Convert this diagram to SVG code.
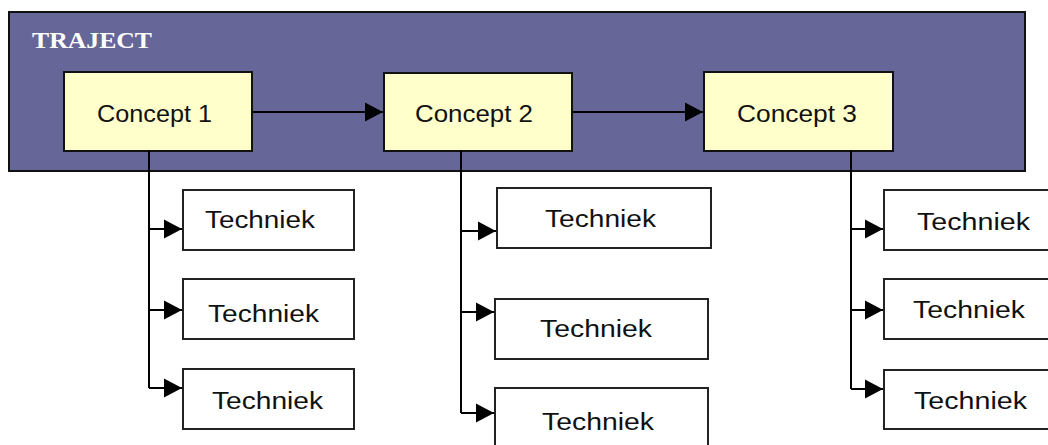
<svg xmlns="http://www.w3.org/2000/svg" width="1048" height="445" viewBox="0 0 1048 445">
<style>
.bg{fill:#666699;stroke:#111;stroke-width:2}
.concept{fill:#ffffcc;stroke:#111;stroke-width:2}
.tech{fill:#ffffff;stroke:#222;stroke-width:2}
.lbl{font-family:"Liberation Sans",Arial,sans-serif;font-size:23px;fill:#111}
.title{font-family:"Liberation Serif","Times New Roman",serif;font-size:24px;font-weight:bold;fill:#ffffff}
.conn{fill:none;stroke:#000;stroke-width:2}
</style>
<defs>
<marker id="arr" markerUnits="userSpaceOnUse" markerWidth="20" markerHeight="20" viewBox="0 0 20 20" refX="19" refY="10" orient="auto">
<path d="M1,0.5 L19,10 L1,19.5 Z" fill="#000"/>
</marker>
</defs>
<g id="traject">
<rect class="bg" x="9" y="12" width="1016" height="159"/>
<text class="title" x="32" y="48" textLength="120" lengthAdjust="spacingAndGlyphs">TRAJECT</text>
</g>
<g id="concept1">
<rect class="concept" x="64" y="72" width="188" height="79"/>
<text class="lbl" x="97" y="122" textLength="115" lengthAdjust="spacingAndGlyphs">Concept 1</text>
</g>
<g id="concept2">
<rect class="concept" x="384" y="73" width="188" height="78"/>
<text class="lbl" x="415" y="122" textLength="118" lengthAdjust="spacingAndGlyphs">Concept 2</text>
</g>
<g id="concept3">
<rect class="concept" x="704" y="72" width="189" height="79"/>
<text class="lbl" x="737" y="122" textLength="120" lengthAdjust="spacingAndGlyphs">Concept 3</text>
</g>
<g id="t1a"><rect class="tech" x="183" y="190" width="171" height="60"/><text class="lbl" x="205" y="228" textLength="110" lengthAdjust="spacingAndGlyphs">Techniek</text></g>
<g id="t1b"><rect class="tech" x="183" y="279" width="171" height="60"/><text class="lbl" x="208" y="322" textLength="111" lengthAdjust="spacingAndGlyphs">Techniek</text></g>
<g id="t1c"><rect class="tech" x="183" y="369" width="171" height="60"/><text class="lbl" x="212" y="409" textLength="111" lengthAdjust="spacingAndGlyphs">Techniek</text></g>
<g id="t2a"><rect class="tech" x="497" y="188" width="214" height="60"/><text class="lbl" x="545" y="227" textLength="111" lengthAdjust="spacingAndGlyphs">Techniek</text></g>
<g id="t2b"><rect class="tech" x="495" y="299" width="213" height="60"/><text class="lbl" x="540" y="337" textLength="112" lengthAdjust="spacingAndGlyphs">Techniek</text></g>
<g id="t2c"><rect class="tech" x="495" y="388" width="213" height="72"/><text class="lbl" x="542" y="430" textLength="112" lengthAdjust="spacingAndGlyphs">Techniek</text></g>
<g id="t3a"><rect class="tech" x="884" y="190" width="180" height="60"/><text class="lbl" x="917" y="230" textLength="113" lengthAdjust="spacingAndGlyphs">Techniek</text></g>
<g id="t3b"><rect class="tech" x="884" y="279" width="180" height="60"/><text class="lbl" x="913" y="318" textLength="112" lengthAdjust="spacingAndGlyphs">Techniek</text></g>
<g id="t3c"><rect class="tech" x="884" y="370" width="180" height="59"/><text class="lbl" x="914" y="409" textLength="113" lengthAdjust="spacingAndGlyphs">Techniek</text></g>
<g id="connectors">
<path class="conn" d="M252,112 H383" marker-end="url(#arr)"/>
<path class="conn" d="M572,112 H703" marker-end="url(#arr)"/>
<path class="conn" d="M149,151 V388"/>
<path class="conn" d="M149,229 H182" marker-end="url(#arr)"/>
<path class="conn" d="M149,310 H182" marker-end="url(#arr)"/>
<path class="conn" d="M149,388 H182" marker-end="url(#arr)"/>
<path class="conn" d="M461,151 V413"/>
<path class="conn" d="M461,231 H496" marker-end="url(#arr)"/>
<path class="conn" d="M461,312 H494" marker-end="url(#arr)"/>
<path class="conn" d="M461,413 H494" marker-end="url(#arr)"/>
<path class="conn" d="M851,151 V389"/>
<path class="conn" d="M851,229 H883" marker-end="url(#arr)"/>
<path class="conn" d="M851,310 H883" marker-end="url(#arr)"/>
<path class="conn" d="M851,389 H883" marker-end="url(#arr)"/>
</g>
</svg>
